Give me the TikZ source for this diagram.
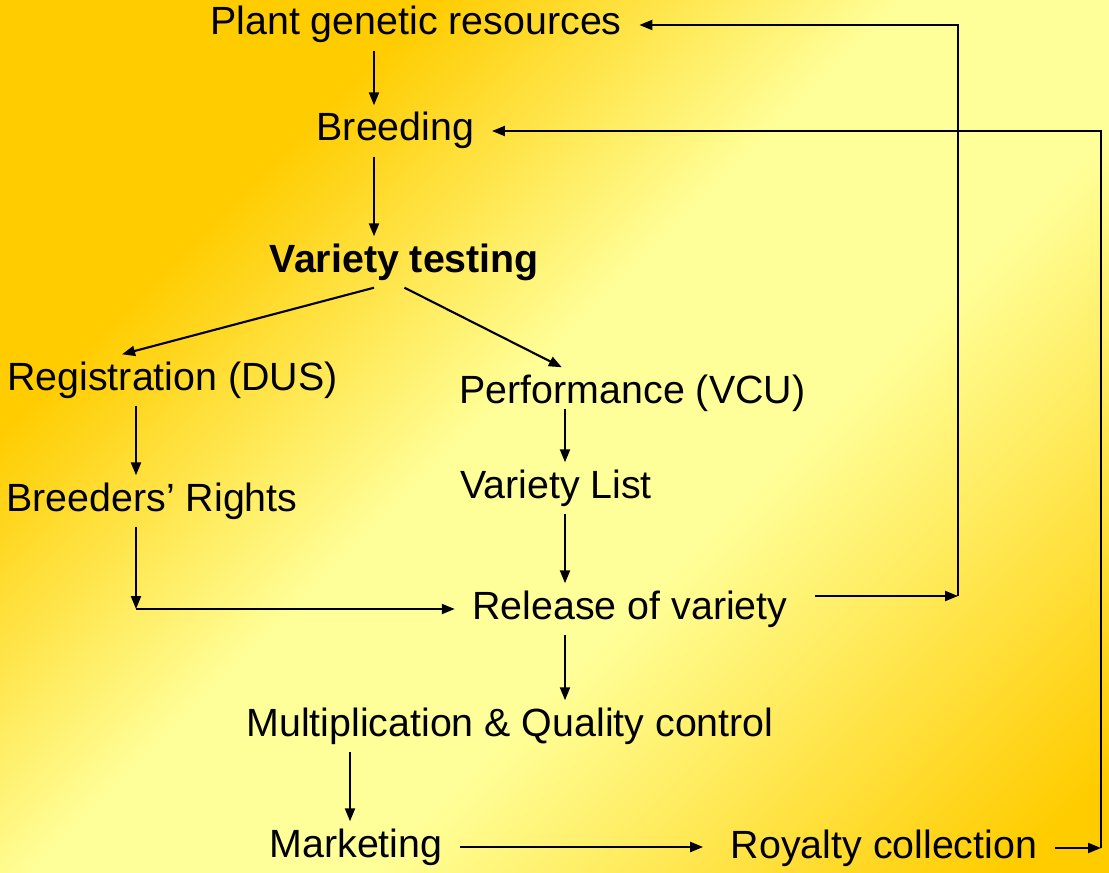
\documentclass[tikz,border=0pt]{standalone}
\usepackage{fontspec}
\setmainfont{Liberation Sans}
\usetikzlibrary{arrows.meta}

\definecolor{bggold}{HTML}{FFCC00}
\definecolor{bglight}{HTML}{FFFF99}
\pgfdeclareverticalshading{bgband}{100bp}{color(0bp)=(bggold); color(18bp)=(bggold); color(41bp)=(bglight); color(53bp)=(bglight); color(70bp)=(bggold); color(100bp)=(bggold)}
\newcommand\lblfont{\fontsize{11.2}{13}\selectfont}

\begin{document}
\begin{tikzpicture}[
	lbl/.style={font=\lblfont, anchor=base, text height=0.28cm, text depth=0.08cm, inner xsep=0.17cm, inner ysep=0.07cm},
	arr/.style={-{Triangle[length=0.13cm,width=0.1cm]}, line width=0.6pt}
]
	% Background
	\shade[shading=bgband, shading angle=45] (0,0) rectangle (11.09,-8.72);
	\useasboundingbox (0,0) rectangle (11.09,-8.72);

	% Stages
	\node[lbl] (PGR) at (4.16,-0.35) {Plant genetic resources};
	\node[lbl] (BR) at (3.955,-1.41) {Breeding};
	\node[lbl, font=\lblfont\bfseries] (VT) at (4.045,-2.72) {Variety testing};
	\node[lbl] (DUS) at (1.725,-3.90) {Registration (DUS)};
	\node[lbl] (VCU) at (6.325,-4.03) {Performance (VCU)};
	\node[lbl] (VL) at (5.56,-4.98) {Variety List};
	\node[lbl] (BRR) at (1.52,-5.11) {Breeders' Rights};
	\node[lbl] (REL) at (6.30,-6.19) {Release of variety};
	\node[lbl] (MQC) at (5.10,-7.36) {Multiplication \& Quality control};
	\node[lbl] (MKT) at (3.56,-8.57) {Marketing};
	\node[lbl] (ROY) at (8.84,-8.58) {Royalty collection};

	% Columns and corners
	\coordinate (colA) at (3.74,0);
	\coordinate (colB) at (1.36,0);
	\coordinate (colC) at (5.65,0);
	\coordinate (colD) at (3.50,0);
	\coordinate (loopA) at (9.58,-5.96);
	\coordinate (loopB) at (11.01,0);

	% Main flow
	\draw[arr] (PGR.south -| colA) -- (BR.north -| colA);
	\draw[arr] (BR.south -| colA) -- (VT.north -| colA);
	\draw[arr] (VT.south -| colA) -- (DUS.153);
	\draw[arr] (VT.south) -- (VCU.160);
	\draw[arr] (DUS.south -| colB) -- (BRR.north -| colB);
	\draw[arr, shorten <=-0.1cm] (VCU.south -| colC) -- (VL.north -| colC);
	\draw[arr] (VL.south -| colC) -- (REL.north -| colC);
	\draw[arr] (BRR.south -| colB) -- (colB |- REL.west);
	\draw[arr] (colB |- REL.west) -- (REL.west);
	\draw[arr] (REL.south -| colC) -- (MQC.north -| colC);
	\draw[arr] (MQC.south -| colD) -- (MKT.north -| colD);
	\draw[arr, shorten >=0.1cm] (MKT.east) -- (MKT.east -| ROY.west);

	% Feedback loops
	\draw[arr, shorten <=0.1cm] (REL.east |- loopA) -- (loopA);
	\draw[arr] (loopA) -- (loopA |- PGR.east) -- (PGR.east);
	\draw[arr] (ROY.east) -- (ROY.east -| loopB);
	\draw[arr] (ROY.east -| loopB) -- (loopB |- BR.east) -- (BR.east);
\end{tikzpicture}
\end{document}
